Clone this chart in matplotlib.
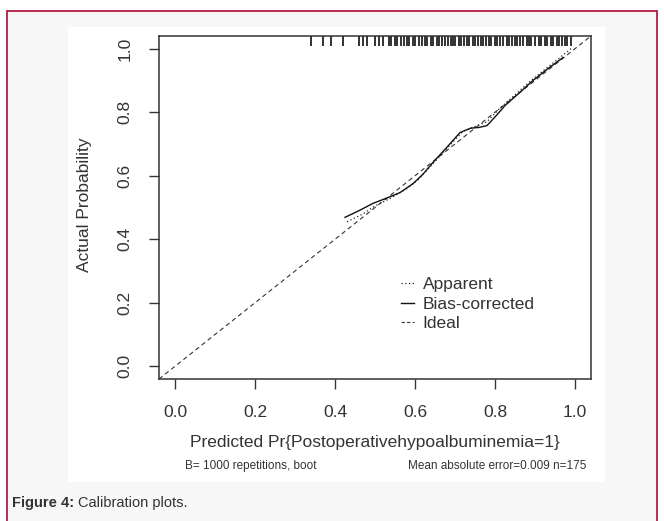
import numpy as np
import matplotlib.pyplot as plt
from matplotlib.patches import Rectangle
from matplotlib.lines import Line2D

plt.rcParams['font.family'] = ['Liberation Sans', 'DejaVu Sans']

# calibration curves
bias_x = [0.425, 0.46, 0.495, 0.53, 0.5625, 0.595, 0.62, 0.645, 0.68, 0.7125,
          0.74, 0.76, 0.78, 0.80, 0.825, 0.86, 0.895, 0.93, 0.97]
bias_y = [0.469, 0.49, 0.513, 0.53, 0.547, 0.575, 0.605, 0.642, 0.69, 0.736,
          0.75, 0.752, 0.758, 0.785, 0.821, 0.86, 0.90, 0.935, 0.972]

app_x = [0.43, 0.47, 0.50, 0.54, 0.58, 0.61, 0.65, 0.69, 0.72, 0.75, 0.78,
         0.81, 0.85, 0.89, 0.93, 0.96, 0.99]
app_y = [0.455, 0.48, 0.505, 0.53, 0.56, 0.59, 0.645, 0.70, 0.74, 0.755, 0.77,
         0.81, 0.855, 0.90, 0.94, 0.97, 1.0]

# predicted probabilities shown as rug on top
rug_x = [0.34, 0.37, 0.39, 0.42, 0.46, 0.47, 0.48, 0.50, 0.51, 0.52, 0.535,
         0.54, 0.55, 0.556, 0.565, 0.572, 0.58, 0.585, 0.595, 0.60, 0.61,
         0.618, 0.625, 0.63, 0.64, 0.645, 0.655, 0.66, 0.667, 0.675, 0.682,
         0.69, 0.696, 0.70, 0.71, 0.716, 0.722, 0.73, 0.735, 0.745, 0.75,
         0.757, 0.765, 0.77, 0.778, 0.785, 0.79, 0.80, 0.806, 0.812, 0.82,
         0.83, 0.835, 0.842, 0.85, 0.855, 0.862, 0.87, 0.88, 0.886, 0.89,
         0.90, 0.91, 0.915, 0.925, 0.93, 0.94, 0.945, 0.955, 0.96, 0.968,
         0.975, 0.98, 0.99]

ticks = [0.0, 0.2, 0.4, 0.6, 0.8, 1.0]
tick_labels = ["0.0", "0.2", "0.4", "0.6", "0.8", "1.0"]

W, H = 664, 521
fig = plt.figure(figsize=(W / 100, H / 100), dpi=100)
fig.patch.set_facecolor('white')

def fx(px):
    return px / W

def fy(py):
    return 1 - py / H

# page background, border and white plot panel
fig.patches.append(Rectangle((fx(7), fy(530)), fx(657) - fx(7), fy(11) - fy(530),
                             transform=fig.transFigure, facecolor='#f8f7f8',
                             edgecolor='#b01c40', linewidth=1.3, zorder=-3))
fig.patches.append(Rectangle((fx(68), fy(482)), fx(605) - fx(68), fy(27) - fy(482),
                             transform=fig.transFigure, facecolor='white',
                             edgecolor='none', zorder=-2))

ax = fig.add_axes([fx(159), fy(379), fx(591) - fx(159), fy(36) - fy(379)])
ax.set_facecolor('white')
ax.set_xlim(-0.04, 1.04)
ax.set_ylim(-0.04, 1.04)

ax.axline((0, 0), (1, 1), color='#333333', lw=0.8, ls=(0, (4, 3)))
ax.plot(app_x, app_y, color='#222222', lw=0.9, ls=(0, (1, 2)))
ax.plot(bias_x, bias_y, color='#111111', lw=1.0)
ax.vlines(rug_x, 0.972, 1.0, transform=ax.get_xaxis_transform(), color='#111111', lw=1.2)

for s in ax.spines.values():
    s.set_color('#333333')
    s.set_linewidth(1.1)

ax.set_xticks(ticks)
ax.set_xticklabels(tick_labels)
ax.set_yticks(ticks)
ax.set_yticklabels(tick_labels, rotation=90, va='center')
ax.tick_params(axis='x', length=7, width=1, color='#333333', pad=12,
               labelsize=12.5, labelcolor='#333333')
ax.tick_params(axis='y', length=7, width=1, color='#333333', pad=12,
               labelsize=12.5, labelcolor='#333333')

handles = [Line2D([], [], color='#222222', lw=0.9, ls=(0, (1, 2))),
           Line2D([], [], color='#111111', lw=1.0),
           Line2D([], [], color='#333333', lw=0.8, ls=(0, (3, 2)))]
ax.legend(handles, ['Apparent', 'Bias-corrected', 'Ideal'], loc='upper left',
          bbox_to_anchor=(fx(401), fy(277)), bbox_transform=fig.transFigure,
          frameon=False, fontsize=12.5, labelspacing=0.25, handlelength=0.75,
          handletextpad=0.5, borderpad=0, borderaxespad=0, labelcolor='#333333')

fig.text(fx(85), fy(205), 'Actual Probability', rotation=90, ha='center', va='center',
         fontsize=12.5, color='#333333')
fig.text(fx(375), fy(443), 'Predicted Pr{Postoperativehypoalbuminemia=1}',
         ha='center', va='center', fontsize=12.5, color='#333333')
fig.text(fx(185), fy(466), 'B= 1000 repetitions, boot', ha='left', va='center',
         fontsize=8.5, color='#333333')
fig.text(fx(586), fy(466), 'Mean absolute error=0.009 n=175', ha='right', va='center',
         fontsize=8.5, color='#333333')

cap1 = fig.text(fx(12), fy(503), 'Figure 4:', ha='left', va='center', fontsize=10.5,
                fontweight='bold', color='#333333')
fig.canvas.draw()
bb = cap1.get_window_extent()
fig.text((bb.x1 + 4) / W, fy(503), 'Calibration plots.', ha='left', va='center',
         fontsize=10.5, color='#333333')

fig.savefig('out.png', dpi=100)
